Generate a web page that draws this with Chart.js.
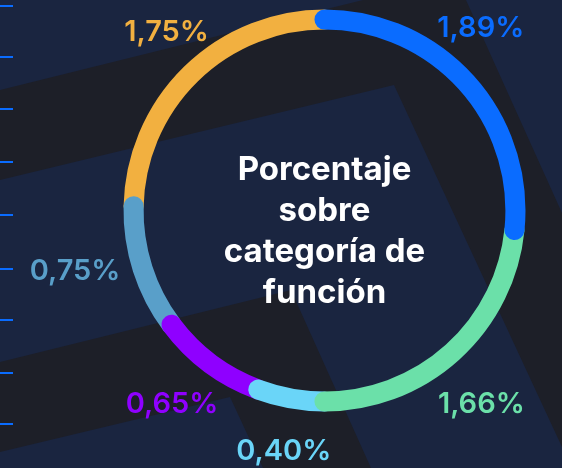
<!DOCTYPE html>
<html>
<head>
<meta charset="utf-8">
<script src="https://cdn.jsdelivr.net/npm/chart.js@4.4.1/dist/chart.umd.min.js"></script>
<style>
  html, body { margin: 0; padding: 0; background: #1a2540; }
  #wrap { position: relative; width: 562px; height: 468px; overflow: hidden; }
  #bg, #chart { position: absolute; left: 0; top: 0; }
</style>
</head>
<body>
<div id="wrap">
  <svg id="bg" width="562" height="468">
    <rect width="562" height="468" fill="#1a2540"/>
    <polygon points="0,90 363,0 466,0 562,213 562,447 394,85 0,180" fill="#1d1f28"/>
    <polygon points="0,362 291,290 371,468 263,468 230,397 0,452" fill="#1d1f28"/>
    <g id="ticks" fill="#0a6cff"></g>
  </svg>
  <canvas id="chart" width="562" height="468"></canvas>
</div>
<script>
const categories = ["Categoría 1", "Categoría 2", "Categoría 3", "Categoría 4", "Categoría 5", "Categoría 6"];
const values = [1.89, 1.66, 0.40, 0.65, 0.75, 1.75];
const colors = ["#0a6cff", "#6be0a9", "#6ad5f8", "#8f00ff", "#599fc9", "#f2b040"];
const centerLines = ["Porcentaje", "sobre", "categoría de", "función"];
const tickRows = [6, 57, 109, 162, 215, 269, 320, 373, 424];

// small nudges so the labels sit where the design put them
const labelNudge = [[-24, -19], [-6, 13], [2, 2], [-7, -1], [-18, -13], [12, -5]];

// decorative axis ticks on the left edge
const tickGroup = document.getElementById("ticks");
tickRows.forEach((y) => {
  const r = document.createElementNS("http://www.w3.org/2000/svg", "rect");
  r.setAttribute("x", 0);
  r.setAttribute("y", y - 1);
  r.setAttribute("width", 13);
  r.setAttribute("height", 2);
  tickGroup.appendChild(r);
});

function fmt(v) {
  return v.toFixed(2).replace(".", ",") + "%";
}

const roundRing = {
  id: "roundRing",
  afterDatasetsDraw(chart) {
    const ctx = chart.ctx;
    const arcs = chart.getDatasetMeta(0).data;
    ctx.save();
    ctx.lineCap = "round";
    // draw last slice first so each cap lies over the one before
    for (let i = arcs.length - 1; i >= 0; i--) {
      const p = arcs[i].getProps(["x", "y", "startAngle", "endAngle", "innerRadius", "outerRadius"], true);
      ctx.beginPath();
      ctx.arc(p.x, p.y, (p.innerRadius + p.outerRadius) / 2, p.startAngle, p.endAngle);
      ctx.lineWidth = p.outerRadius - p.innerRadius;
      ctx.strokeStyle = colors[i];
      ctx.stroke();
    }

    // value labels outside the ring
    ctx.textAlign = "center";
    ctx.textBaseline = "middle";
    ctx.font = "600 29px Inter";
    arcs.forEach((arc, i) => {
      const p = arc.getProps(["x", "y", "startAngle", "endAngle", "outerRadius"], true);
      const mid = (p.startAngle + p.endAngle) / 2;
      const r = p.outerRadius + 42;
      const x = p.x + Math.cos(mid) * r + labelNudge[i][0];
      const y = p.y + Math.sin(mid) * r + labelNudge[i][1];
      ctx.fillStyle = colors[i];
      ctx.fillText(fmt(values[i]), x, y);
    });

    // centre caption
    const c = arcs[0].getProps(["x", "y"], true);
    ctx.fillStyle = "#ffffff";
    ctx.font = "700 33px Inter";
    const lh = 41;
    centerLines.forEach((line, i) => {
      ctx.fillText(line, c.x, c.y - 40 + i * lh);
    });
    ctx.restore();
  }
};

new Chart(document.getElementById("chart"), {
  type: "doughnut",
  data: {
    labels: categories,
    datasets: [{
      data: values,
      backgroundColor: "rgba(0,0,0,0)",
      borderWidth: 0,
      hoverOffset: 0
    }]
  },
  options: {
    responsive: false,
    animation: false,
    cutout: "90%",
    layout: { padding: { left: 123.5, right: 36.5, top: 9.5, bottom: 56.5 } },
    plugins: {
      legend: { display: false },
      tooltip: { enabled: false }
    },
    events: []
  },
  plugins: [roundRing]
});
</script>
</body>
</html>
